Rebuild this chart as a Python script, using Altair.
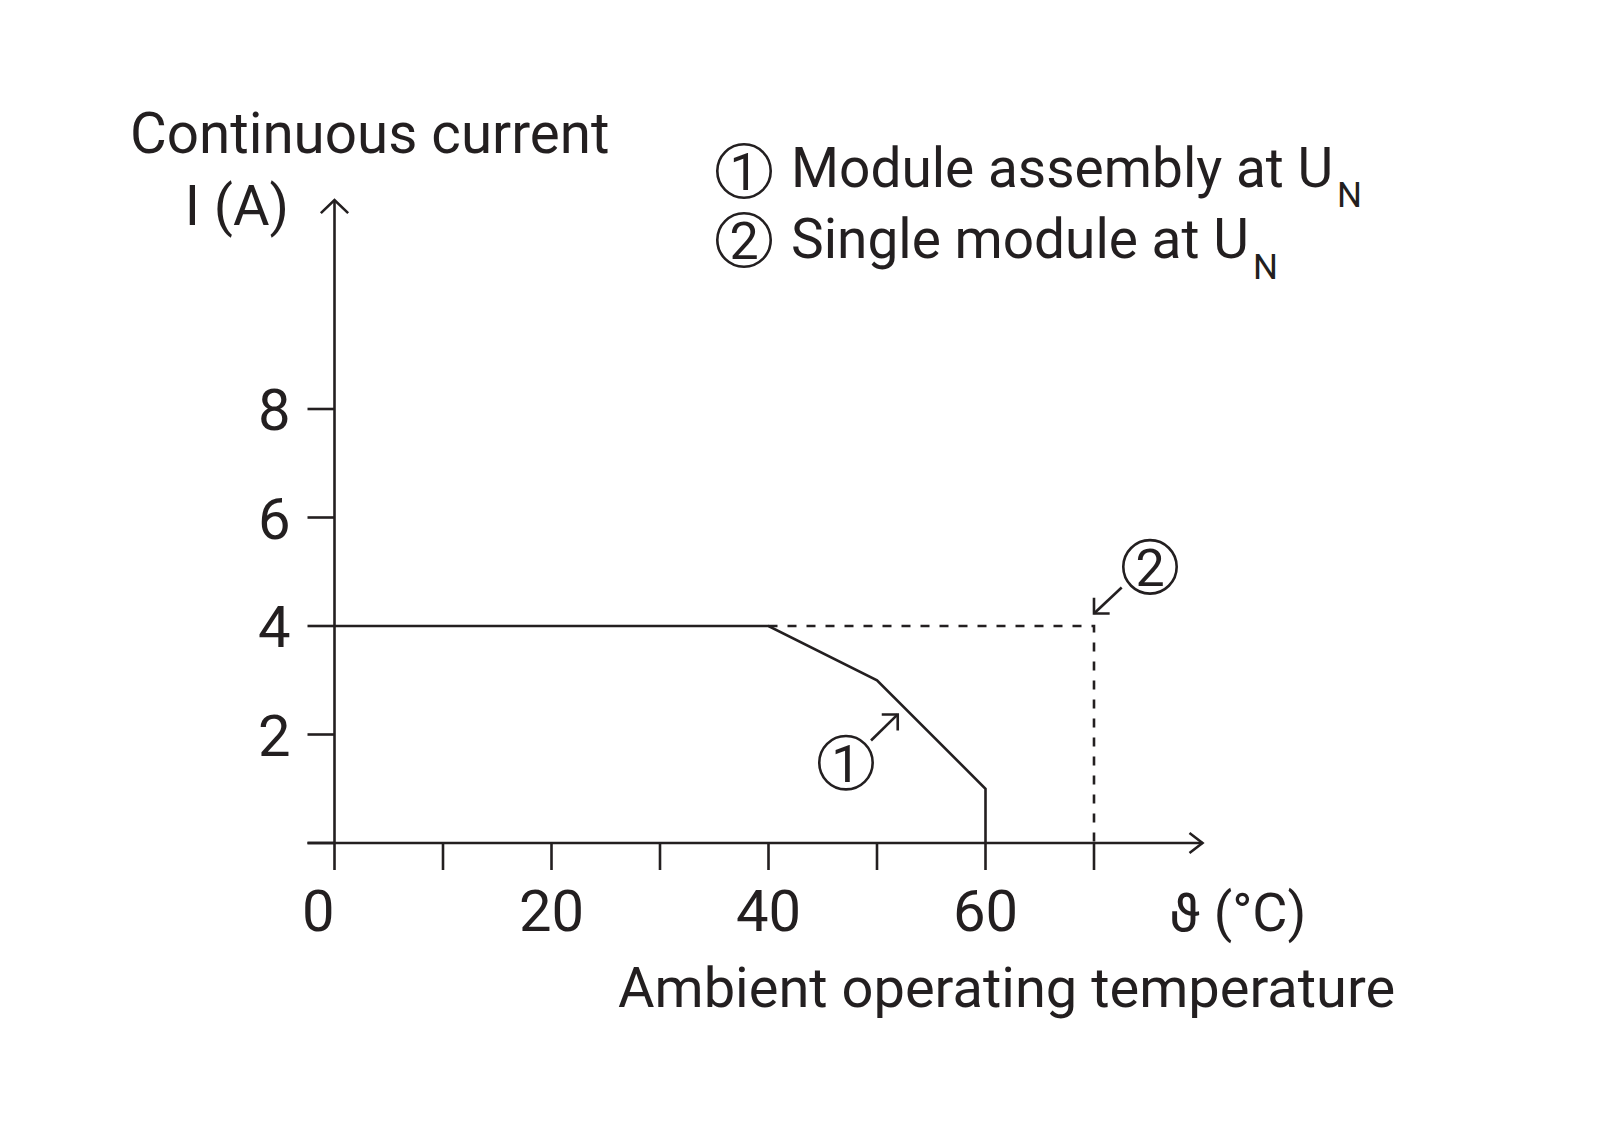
import altair as alt
import pandas as pd

# ---------------- data ----------------
temp_assembly = [0, 40, 50, 60, 60]          # curve 1 (module assembly)
current_assembly = [4, 4, 3, 1, 0]
temp_single = [40, 70, 70]                   # curve 2 (single module), dashed
current_single = [4, 4, 0]

x_tick_values = [0, 10, 20, 30, 40, 50, 60, 70]
x_label_values = [0, 20, 40, 60]
y_tick_values = [0, 2, 4, 6, 8]
y_label_values = [2, 4, 6, 8]
x_axis_end = 80
y_axis_end = 11.85

y_title_lines = ["Continuous current", "I (A)"]
x_unit_label = "\u03d1 (°C)"
x_title = "Ambient operating temperature"
legend_labels = ["Module assembly at U", "Single module at U"]
legend_marks = ["1", "2"]
subscript = "N"

# annotation anchors (data space): circled number and arrow start/tip
ann1_circle = [47.14, 1.48]
ann1_arrow = [49.45, 1.89, 51.91, 2.37]
ann2_circle = [75.16, 5.09]
ann2_arrow = [72.55, 4.71, 70.0, 4.23]

# ---------------- layout / style ----------------
INK = "#231f20"
FONT = "Roboto"
W, H = 1584, 1123
x0_px, x_ppu = 326.5, 10.85
y0_px, y_ppu = 835.0, 54.25
xdom = [-x0_px / x_ppu, (W - x0_px) / x_ppu]
ydom = [(y0_px - H) / y_ppu, y0_px / y_ppu]
xs = alt.Scale(domain=xdom, nice=False, zero=False)
ys = alt.Scale(domain=ydom, nice=False, zero=False)
SW = 2.6
TICK = 27

one = pd.DataFrame({"k": [0]})


def xd(v):
    return alt.XDatum(v, scale=xs, axis=None)


def yd(v):
    return alt.YDatum(v, scale=ys, axis=None)


df1 = pd.DataFrame({"t": temp_assembly, "i": current_assembly, "o": list(range(len(temp_assembly)))})
df2 = pd.DataFrame({"t": temp_single, "i": current_single, "o": list(range(len(temp_single)))})

line1 = alt.Chart(df1).mark_line(color=INK, strokeWidth=SW, strokeJoin="miter").encode(
    x=alt.X("t:Q", scale=xs, axis=None),
    y=alt.Y("i:Q", scale=ys, axis=None),
    order="o:Q",
)
line2 = alt.Chart(df2).mark_line(color=INK, strokeWidth=SW, strokeDash=[9, 10]).encode(
    x=alt.X("t:Q", scale=xs, axis=None),
    y=alt.Y("i:Q", scale=ys, axis=None),
    order="o:Q",
)

# ticks
xticks_df = pd.DataFrame({"t": x_tick_values})
yticks_df = pd.DataFrame({"i": y_tick_values})
x_ticks = alt.Chart(xticks_df).mark_rule(color=INK, strokeWidth=SW).encode(
    x=alt.X("t:Q", scale=xs, axis=None), y=yd(0), y2=alt.Y2Datum(-TICK / y_ppu))
y_ticks = alt.Chart(yticks_df).mark_rule(color=INK, strokeWidth=SW).encode(
    y=alt.Y("i:Q", scale=ys, axis=None), x=xd(-TICK / x_ppu), x2=alt.X2Datum(0))

# tick labels
xlab_df = pd.DataFrame({"t": x_label_values, "label": [str(v) for v in x_label_values]})
ylab_df = pd.DataFrame({"i": y_label_values, "label": [str(v) for v in y_label_values]})
x_labels_mid = alt.Chart(xlab_df).transform_filter("datum.t > 0").mark_text(
    font=FONT, fontSize=58, align="center", baseline="alphabetic", dy=88, color=INK
).encode(x=alt.X("t:Q", scale=xs, axis=None), y=yd(0), text="label:N")
x_label_zero = alt.Chart(xlab_df).transform_filter("datum.t === 0").mark_text(
    font=FONT, fontSize=58, align="right", baseline="alphabetic", dy=88, dx=0, color=INK
).encode(x=alt.X("t:Q", scale=xs, axis=None), y=yd(0), text="label:N")
y_labels = alt.Chart(ylab_df).mark_text(
    font=FONT, fontSize=58, align="right", baseline="alphabetic", dx=-44, dy=21, color=INK
).encode(y=alt.Y("i:Q", scale=ys, axis=None), x=xd(0), text="label:N")


def seg(xa, ya, xb, yb):
    return alt.Chart(one).mark_rule(color=INK, strokeWidth=SW).encode(
        x=xd(xa), y=yd(ya), x2=alt.X2Datum(xb), y2=alt.Y2Datum(yb))


def head(xv, yv, angle, size, path="M -1 -1 L 0 0 L -1 1"):
    return alt.Chart(one).mark_point(
        shape=path, size=size, filled=False, opacity=1, color=INK,
        strokeWidth=SW, strokeJoin="miter", angle=angle).encode(x=xd(xv), y=yd(yv))


def ring_datum(xv, yv):
    return alt.Chart(one).mark_point(
        shape="circle", size=2852, filled=False, opacity=1, color=INK,
        strokeWidth=SW).encode(x=xd(xv), y=yd(yv))


def digit_datum(label, xv, yv):
    return alt.Chart(pd.DataFrame({"label": [label]})).mark_text(
        font=FONT, fontSize=52, align="center", baseline="alphabetic", dy=19, color=INK
    ).encode(x=xd(xv), y=yd(yv), text="label:N")


def ring_px(x, y):
    return alt.Chart(one).mark_point(
        shape="circle", size=2852, filled=False, opacity=1, color=INK,
        strokeWidth=SW).encode(x=alt.value(x), y=alt.value(y))


def text_px(label, x, y, size=55, align="left", baseline="alphabetic"):
    return alt.Chart(pd.DataFrame({"label": [label]})).mark_text(
        font=FONT, fontSize=size, align=align, baseline=baseline, color=INK
    ).encode(x=alt.value(x), y=alt.value(y), text="label:N")


x_start = -TICK / x_ppu
layers = [
    line1, line2,
    x_ticks, y_ticks,
    x_labels_mid, x_label_zero, y_labels,
    # axis lines with arrows
    seg(x_start, 0, x_axis_end, 0),
    seg(0, 0, 0, y_axis_end),
    head(x_axis_end, 0, 0, 400, "M -1.3 -1 L 0 0 L -1.3 1"),
    head(0, y_axis_end, 270, 676, "M -1 -1.05 L 0 0 L -1 1.05"),
    # annotation 1
    ring_datum(*ann1_circle),
    digit_datum(legend_marks[0], *ann1_circle),
    seg(*ann1_arrow),
    head(ann1_arrow[2], ann1_arrow[3], 315, 511),
    # annotation 2
    ring_datum(*ann2_circle),
    digit_datum(legend_marks[1], *ann2_circle),
    seg(*ann2_arrow),
    head(ann2_arrow[2], ann2_arrow[3], 135, 490),
    # axis titles
    text_px(y_title_lines[0], 122, 145, size=56.5),
    text_px(y_title_lines[1], 281, 217, size=56, align="right"),
    text_px(x_unit_label, 1161, 923, size=54),
    text_px(x_title, 610, 999, size=56),
    # legend
    ring_px(736, 163),
    text_px(legend_marks[0], 736, 182, size=52, align="center"),
    ring_px(736, 232),
    text_px(legend_marks[1], 736, 251, size=52, align="center"),
    text_px(legend_labels[0], 783, 179, size=55),
    text_px(subscript, 1329, 199, size=35),
    text_px(legend_labels[1], 783, 250, size=55),
    text_px(subscript, 1245, 271, size=35),
]

chart = alt.layer(*layers).properties(
    width=W, height=H, autosize="none", padding=0, background="white"
).configure_view(stroke=None)

chart.save("out.html", embed_options={"renderer": "svg", "actions": False})
